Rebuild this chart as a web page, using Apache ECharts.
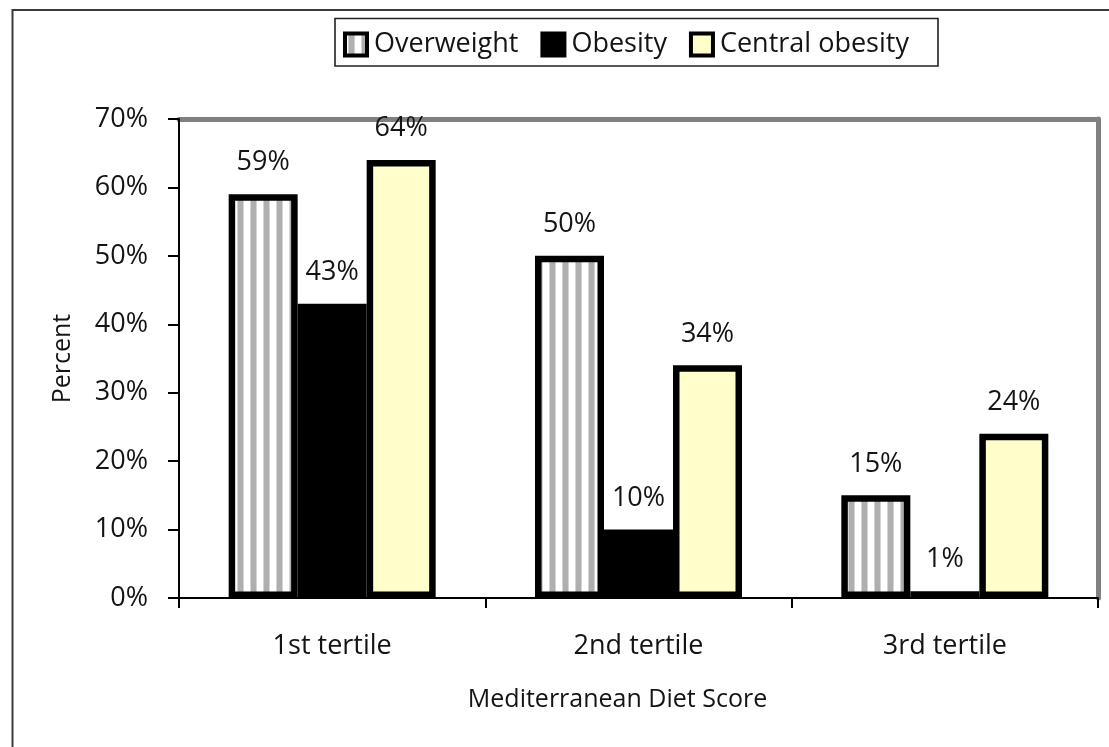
<!DOCTYPE html>
<html>
<head>
<meta charset="utf-8">
<script src="https://cdn.jsdelivr.net/npm/echarts@6/dist/echarts.min.js"></script>
<style>
  html, body { margin: 0; padding: 0; background: #fff; }
  #chart { width: 1109px; height: 747px; }
</style>
</head>
<body>
<div id="chart"></div>
<script>
// Prevalence by tertile of the Mediterranean Diet Score
const categories = ['1st tertile', '2nd tertile', '3rd tertile'];
const overweight = [59, 50, 15];
const obesity = [43, 10, 1];
const centralObesity = [64, 34, 24];
const seriesNames = ['Overweight', 'Obesity', 'Central obesity'];
const yMin = 0, yMax = 70, yStep = 10;

const FONT = 'Open Sans';
const TEXT = '#141414';

// vertical grey stripes used for the "Overweight" bars
function stripePattern() {
  const c = document.createElement('canvas');
  c.width = 13; c.height = 4;
  const g = c.getContext('2d');
  g.fillStyle = '#ffffff'; g.fillRect(0, 0, 13, 4);
  g.fillStyle = '#d4d4d4'; g.fillRect(3, 0, 1, 4); g.fillRect(9, 0, 1, 4);
  g.fillStyle = '#afafaf'; g.fillRect(4, 0, 5, 4);
  return c;
}

const chart = echarts.init(document.getElementById('chart'), null, { renderer: 'canvas' });

const labelStyle = {
  show: true,
  position: 'top',
  distance: 18,
  formatter: '{c}%',
  fontFamily: FONT,
  fontSize: 27,
  color: TEXT
};

function barSeries(name, data, fill) {
  return {
    name: name,
    type: 'bar',
    data: data,
    barWidth: 69,
    barGap: '0%',
    itemStyle: { color: fill, borderColor: '#000', borderWidth: 6.5 },
    label: labelStyle
  };
}

chart.setOption({
  animation: false,
  backgroundColor: '#fff',
  textStyle: { fontFamily: FONT },
  grid: { left: 179, right: 11, top: 119, bottom: 149, containLabel: false },
  legend: {
    left: 343,
    top: 31,
    padding: 0,
    itemWidth: 22,
    itemHeight: 22,
    itemGap: 22,
    icon: 'rect',
    data: seriesNames,
    itemStyle: { borderColor: '#000', borderWidth: 4 },
    textStyle: { fontFamily: FONT, fontSize: 27, color: TEXT, padding: [0, 0, 0, 2] }
  },
  graphic: [
    {
      type: 'rect', silent: true, z: 0,
      shape: { x: 12.5, y: 10, width: 2000, height: 2000 },
      style: { fill: 'none', stroke: '#3a3a3a', lineWidth: 2 }
    },
    {
      type: 'rect', silent: true, z: 0,
      shape: { x: 335, y: 18.5, width: 603, height: 47.5 },
      style: { fill: 'none', stroke: '#222', lineWidth: 1.6 }
    }
  ],
  xAxis: [
    {
      type: 'category',
      data: categories,
      position: 'bottom',
      name: 'Mediterranean Diet Score',
      nameLocation: 'middle',
      nameGap: 89,
      nameTextStyle: { fontFamily: FONT, fontSize: 25, color: TEXT, padding: [0, 42, 0, 0] },
      axisLine: { show: true, lineStyle: { color: '#000', width: 2 } },
      axisTick: { show: true, inside: false, length: 10, lineStyle: { color: '#000', width: 2 } },
      axisLabel: { margin: 35, fontFamily: FONT, fontSize: 27, color: TEXT },
      splitLine: { show: false },
      z: 5
    },
    {
      type: 'category',
      data: categories,
      position: 'top',
      axisLine: { show: true, onZero: false, lineStyle: { color: '#808080', width: 5 } },
      axisTick: { show: false },
      axisLabel: { show: false },
      splitLine: { show: false }
    }
  ],
  yAxis: [
    {
      type: 'value',
      min: yMin,
      max: yMax,
      interval: yStep,
      position: 'left',
      name: 'Percent',
      nameLocation: 'middle',
      nameRotate: 90,
      nameGap: 104,
      nameTextStyle: { fontFamily: FONT, fontSize: 25, color: TEXT },
      axisLine: { show: true, lineStyle: { color: '#000', width: 2 } },
      axisTick: { show: true, inside: false, length: 11, lineStyle: { color: '#000', width: 2 } },
      axisLabel: { margin: 31, formatter: '{value}%', fontFamily: FONT, fontSize: 27, color: TEXT },
      splitLine: { show: false },
      z: 5
    },
    {
      type: 'value',
      min: yMin,
      max: yMax,
      interval: yStep,
      position: 'right',
      axisLine: { show: true, onZero: false, lineStyle: { color: '#808080', width: 5 } },
      axisTick: { show: false },
      axisLabel: { show: false },
      splitLine: { show: false }
    }
  ],
  series: [
    barSeries(seriesNames[0], overweight, { image: stripePattern(), repeat: 'repeat' }),
    barSeries(seriesNames[1], obesity, '#000000'),
    barSeries(seriesNames[2], centralObesity, '#ffffcc')
  ]
});
</script>
</body>
</html>
